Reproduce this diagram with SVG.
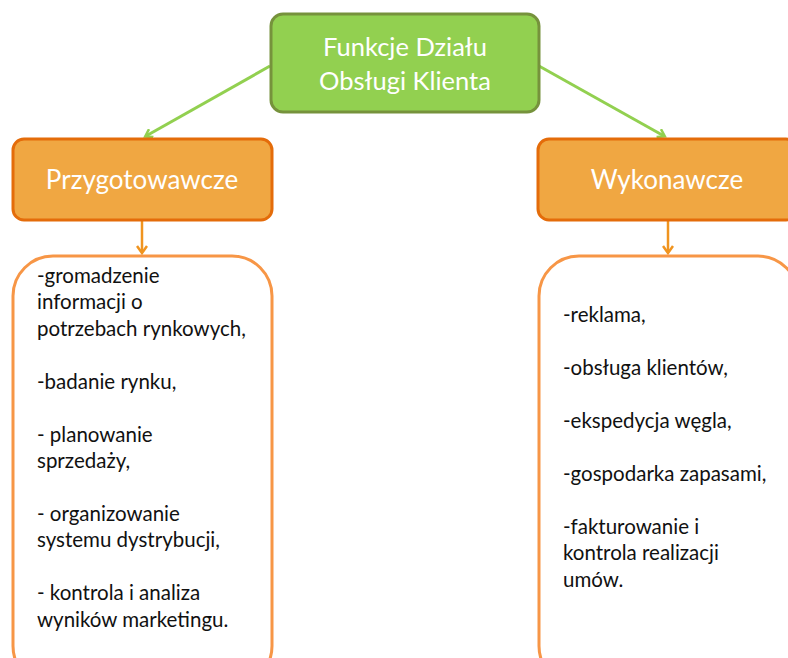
<svg xmlns="http://www.w3.org/2000/svg" width="788" height="658" viewBox="0 0 788 658">
<defs>
<marker id="ag" markerWidth="10" markerHeight="10" refX="7" refY="5" orient="auto" markerUnits="userSpaceOnUse" viewBox="0 0 10 10">
<path d="M1,0.5 L8,5 L1,9.5" fill="none" stroke="#92D050" stroke-width="2.5"/>
</marker>
<marker id="ao" markerWidth="12" markerHeight="12" refX="7" refY="6" orient="auto" markerUnits="userSpaceOnUse" viewBox="0 0 12 12">
<path d="M1,1 L8,6 L1,11" fill="none" stroke="#F0941F" stroke-width="2.5"/>
</marker>
<style>
.t{font-family:Lato,"Open Sans","Liberation Sans",sans-serif;}
.w{fill:#ffffff;}
.b{fill:#111111;font-size:20.5px;}
.o{fill:#F0A742;stroke:#E46C0A;stroke-width:3;}
.l{fill:#ffffff;stroke:#F79646;stroke-width:3;}
</style>
</defs>
<rect width="788" height="658" fill="#ffffff"/>
<g id="connectors" fill="none">
<line x1="270" y1="66" x2="146" y2="136" stroke="#92D050" stroke-width="3" marker-end="url(#ag)"/>
<line x1="539" y1="66" x2="664" y2="136" stroke="#92D050" stroke-width="3" marker-end="url(#ag)"/>
<line x1="142" y1="221" x2="142" y2="252" stroke="#F0941F" stroke-width="2.5" marker-end="url(#ao)"/>
<line x1="668" y1="221" x2="668" y2="252" stroke="#F0941F" stroke-width="2.5" marker-end="url(#ao)"/>
</g>
<g id="root">
<rect x="271" y="14" width="268" height="98" rx="12" fill="#92D050" stroke="#76923C" stroke-width="3"/>
<text class="t w" x="405" y="56" font-size="25.5" text-anchor="middle">Funkcje Działu</text>
<text class="t w" x="405" y="90" font-size="25.5" text-anchor="middle">Obsługi Klienta</text>
</g>
<g id="przygotowawcze">
<rect class="o" x="13" y="139" width="259" height="81" rx="11"/>
<text class="t w" x="142" y="189" font-size="26" text-anchor="middle">Przygotowawcze</text>
</g>
<g id="wykonawcze">
<rect class="o" x="538" y="139" width="259" height="81" rx="11"/>
<text class="t w" x="667" y="189" font-size="26" text-anchor="middle">Wykonawcze</text>
</g>
<g id="lista-przygotowawcze">
<rect class="l" x="13" y="256" width="259" height="430" rx="40"/>
<text class="t b" x="37" y="283">-gromadzenie</text>
<text class="t b" x="37" y="309">informacji o</text>
<text class="t b" x="37" y="336">potrzebach rynkowych,</text>
<text class="t b" x="37" y="389">-badanie rynku,</text>
<text class="t b" x="37" y="442">- planowanie</text>
<text class="t b" x="37" y="468">sprzedaży,</text>
<text class="t b" x="37" y="521">- organizowanie</text>
<text class="t b" x="37" y="547">systemu dystrybucji,</text>
<text class="t b" x="37" y="600">- kontrola i analiza</text>
<text class="t b" x="37" y="627">wyników marketingu.</text>
</g>
<g id="lista-wykonawcze">
<rect class="l" x="539" y="256" width="259" height="430" rx="40"/>
<text class="t b" x="563" y="322">-reklama,</text>
<text class="t b" x="563" y="375">-obsługa klientów,</text>
<text class="t b" x="563" y="428">-ekspedycja węgla,</text>
<text class="t b" x="563" y="481">-gospodarka zapasami,</text>
<text class="t b" x="563" y="534">-fakturowanie i</text>
<text class="t b" x="563" y="560">kontrola realizacji</text>
<text class="t b" x="563" y="587">umów.</text>
</g>
</svg>
